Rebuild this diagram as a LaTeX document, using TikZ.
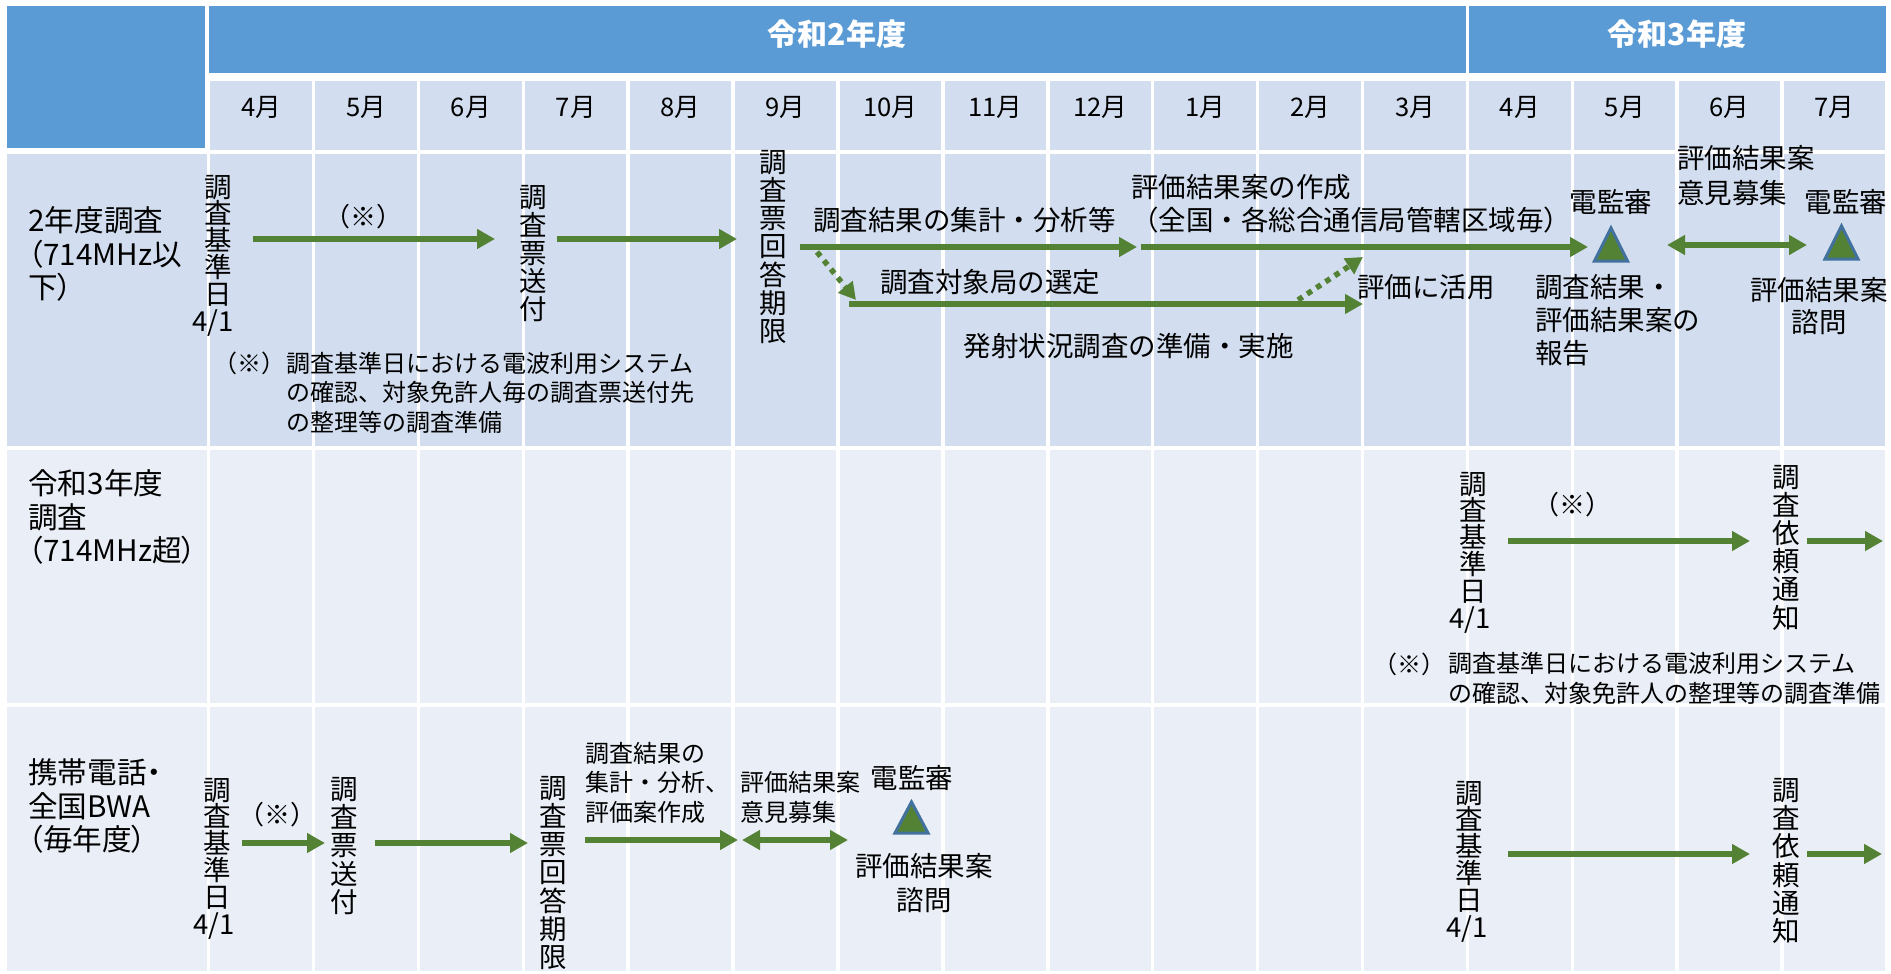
\documentclass[tikz,border=0pt]{standalone}
\usepackage{fontspec}
\setmainfont{Noto Sans CJK JP}
\newfontfamily\jpp{Noto Sans CJK JP}[RawFeature=+palt]
\usetikzlibrary{arrows.meta}
\definecolor{hdr}{HTML}{5B9BD5}
\definecolor{bandA}{HTML}{D2DEEF}
\definecolor{bandB}{HTML}{EAEFF7}
\definecolor{grn}{HTML}{548235}
\definecolor{triedge}{HTML}{41719C}
\newcommand{\fsz}[2]{\fontsize{#1}{#2}\selectfont\lineskiplimit=-50pt\relax}
\tikzset{
  every node/.style={inner sep=0pt, text=black},
  hdrtxt/.style={font=\bfseries\fsz{15pt}{18pt}, text=white},
  montxt/.style={font=\fsz{12.8pt}{15pt}},
  labtxt/.style={font=\jpp\fsz{14.8pt}{16.9pt}, align=left, anchor=west},
  vtxt/.style={font=\fsz{13.75pt}{14.1pt}, align=center},
  vtxtb/.style={font=\fsz{13.75pt}{13.4pt}, align=center},
  txt/.style={font=\fsz{13.75pt}{16.5pt}},
  marktxt/.style={font=\fsz{13pt}{16pt}},
  notetxt/.style={font=\fsz{12pt}{14.75pt}, align=left},
  smtxt/.style={font=\fsz{12pt}{14.75pt}, align=left},
  arr/.style={draw=grn, line width=3pt, -{Triangle[length=9pt,width=9.5pt]}},
  darr/.style={draw=grn, line width=3pt, {Triangle[length=9pt,width=9.5pt]}-{Triangle[length=9pt,width=9.5pt]}},
  dotarr/.style={draw=grn, line width=2.75pt, dash pattern=on 2.75pt off 2.75pt, -{Triangle[length=8.5pt,width=9pt]}},
  tri/.style={fill=grn, draw=triedge, line width=1.5pt},
}
\begin{document}
\begin{tikzpicture}[x=0.5pt,y=-0.5pt]
\useasboundingbox (0,0) rectangle (1891,974);
\fill[white] (0,0) rectangle (1891,974);
% ---------- header ----------
\fill[hdr] (7,6) rectangle (205,148);
\fill[hdr] (209,6) rectangle (1466,73);
\fill[hdr] (1469,6) rectangle (1886,73);
\node[hdrtxt] (h2) at (837,34) {令和2年度};
\node[hdrtxt] (h3) at (1677,34) {令和3年度};
\foreach \m [count=\i from 0] in {4月,5月,6月,7月,8月,9月,10月,11月,12月,1月,2月,3月,4月,5月,6月,7月} {
  \fill[bandA] ({208.6+104.9*\i+1.75},81) rectangle ({208.6+104.9*(\i+1)-1.75},150);
  \node[montxt] (mon\i) at ({208.6+104.9*\i+52.45},107) {\m};
}
% ---------- body rows ----------
\fill[bandA] (7,154) rectangle (206.5,446);
\fill[bandB] (7,450) rectangle (206.5,703);
\fill[bandB] (7,707) rectangle (206.5,971);
\foreach \i in {0,...,15} {
  \fill[bandA] ({208.6+104.9*\i+1.75},154) rectangle ({208.6+104.9*(\i+1)-1.75},446);
  \fill[bandB] ({208.6+104.9*\i+1.75},450) rectangle ({208.6+104.9*(\i+1)-1.75},703);
  \fill[bandB] ({208.6+104.9*\i+1.75},707) rectangle ({208.6+104.9*(\i+1)-1.75},971);
}
% ---------- row 1 ----------
\node[labtxt] (r1lab) at (28,254) {2年度調査\\（714MHz以\\下）};
\node[vtxtb] (r1base) at (218,255.5) {調\\査\\基\\準\\日\\4/1\kern5pt};
\node[marktxt] (r1m) at (363,217) {（※）};
\node[vtxt] (r1send) at (533,253.5) {調\\査\\票\\送\\付};
\node[vtxt] (r1due) at (773,247) {調\\査\\票\\回\\答\\期\\限};
\node[txt] (r1agg) at (964.5,220) {調査結果の集計・分析等};
\node[txt, align=left, anchor=west] (r1eval) at (1131,203.5) {評価結果案の作成\\（全国・各総合通信局管轄区域毎）};
\node[txt] (r1sel) at (990,282) {調査対象局の選定};
\node[txt, anchor=west] (r1use) at (1357,287) {評価に活用};
\node[txt] (r1emi) at (1128.5,346) {発射状況調査の準備・実施};
\node[txt] (r1den1) at (1611,202) {電監審};
\node[txt, align=left, anchor=west, font=\fsz{13.75pt}{17.5pt}] (r1pub) at (1677,175.5) {評価結果案\\意見募集};
\node[txt] (r1den2) at (1846,202) {電監審};
\node[txt, align=left, anchor=west] (r1rep) at (1535,320) {調査結果・\\評価結果案の\\報告};
\node[txt, align=center, font=\fsz{13.75pt}{16pt}] (r1ask) at (1819,306) {評価結果案\\諮問};
\node[notetxt, anchor=west] (r1note) at (286,392.5) {調査基準日における電波利用システム\\の確認、対象免許人毎の調査票送付先\\の整理等の調査準備};
\node[notetxt] (r1mk) at (249.5,363) {（※）};
\coordinate (a1s) at (253,239); \coordinate (a1e) at (495,239);
\coordinate (a2s) at (557,239); \coordinate (a2e) at (737,239);
\coordinate (a3s) at (800,247); \coordinate (a3e) at (1137,247);
\coordinate (a4s) at (1141,247); \coordinate (a4e) at (1588,247);
\coordinate (a5s) at (849,304); \coordinate (a5e) at (1363,304);
\coordinate (d1s) at (817,252); \coordinate (d1e) at (856,300);
\coordinate (d2s) at (1298,300); \coordinate (d2e) at (1363,257);
\coordinate (a6s) at (1667,245); \coordinate (a6e) at (1807,245);
\draw[arr] (a1s) -- (a1e);
\draw[arr] (a2s) -- (a2e);
\draw[arr] (a3s) -- (a3e);
\draw[arr] (a4s) -- (a4e);
\draw[arr] (a5s) -- (a5e);
\draw[dotarr] (d1s) -- (d1e);
\draw[dotarr] (d2s) -- (d2e);
\draw[darr] (a6s) -- (a6e);
\filldraw[tri] (1594.5,261) -- (1611,228) -- (1627.5,261) -- cycle;
\filldraw[tri] (1825,259) -- (1841.5,226) -- (1858,259) -- cycle;
% ---------- row 2 ----------
\node[labtxt] (r2lab) at (28,517) {令和3年度\\調査\\（714MHz超）};
\node[vtxtb] (r2base) at (1473,552.5) {調\\査\\基\\準\\日\\4/1\kern3pt};
\node[marktxt] (r2m) at (1572,505) {（※）};
\node[vtxt] (r2req) at (1786,547.5) {調\\査\\依\\頼\\通\\知};
\node[notetxt, anchor=west] (r2note) at (1448,678.5) {調査基準日における電波利用システム\\の確認、対象免許人の整理等の調査準備};
\node[notetxt] (r2mk) at (1409,664) {（※）};
\coordinate (b1s) at (1508,541); \coordinate (b1e) at (1750,541);
\coordinate (b2s) at (1807,541); \coordinate (b2e) at (1883,541);
\draw[arr] (b1s) -- (b1e);
\draw[arr] (b2s) -- (b2e);
% ---------- row 3 ----------
\node[labtxt] (r3lab) at (28,806) {携帯電話・\\全国BWA\\（毎年度）};
\node[vtxtb] (r3base) at (217,858.5) {調\\査\\基\\準\\日\\4/1\kern3pt};
\node[marktxt] (r3m) at (277,815) {（※）};
\node[vtxt] (r3send) at (344,846) {調\\査\\票\\送\\付};
\node[vtxt] (r3due) at (553,873) {調\\査\\票\\回\\答\\期\\限};
\node[smtxt, anchor=west] (r3agg) at (585,782.5) {調査結果の\\集計・分析、\\評価案作成};
\node[smtxt, anchor=west] (r3pub) at (740,797.5) {評価結果案\\意見募集};
\node[txt] (r3den) at (912,778) {電監審};
\node[txt, align=center, font=\fsz{13.75pt}{17pt}] (r3ask) at (924,883) {評価結果案\\諮問};
\node[vtxtb] (r3base2) at (1469,861.5) {調\\査\\基\\準\\日\\4/1\kern2pt};
\node[vtxt] (r3req) at (1786,861) {調\\査\\依\\頼\\通\\知};
\coordinate (c1s) at (242,843); \coordinate (c1e) at (325,843);
\coordinate (c2s) at (375,843); \coordinate (c2e) at (528,843);
\coordinate (c3s) at (585,840); \coordinate (c3e) at (738,840);
\coordinate (c4s) at (742,840); \coordinate (c4e) at (848,840);
\coordinate (c5s) at (1508,854); \coordinate (c5e) at (1750,854);
\coordinate (c6s) at (1807,854); \coordinate (c6e) at (1882,854);
\draw[arr] (c1s) -- (c1e);
\draw[arr] (c2s) -- (c2e);
\draw[arr] (c3s) -- (c3e);
\draw[darr] (c4s) -- (c4e);
\draw[arr] (c5s) -- (c5e);
\draw[arr] (c6s) -- (c6e);
\filldraw[tri] (895,833) -- (911.5,802) -- (928,833) -- cycle;
\end{tikzpicture}
\end{document}
